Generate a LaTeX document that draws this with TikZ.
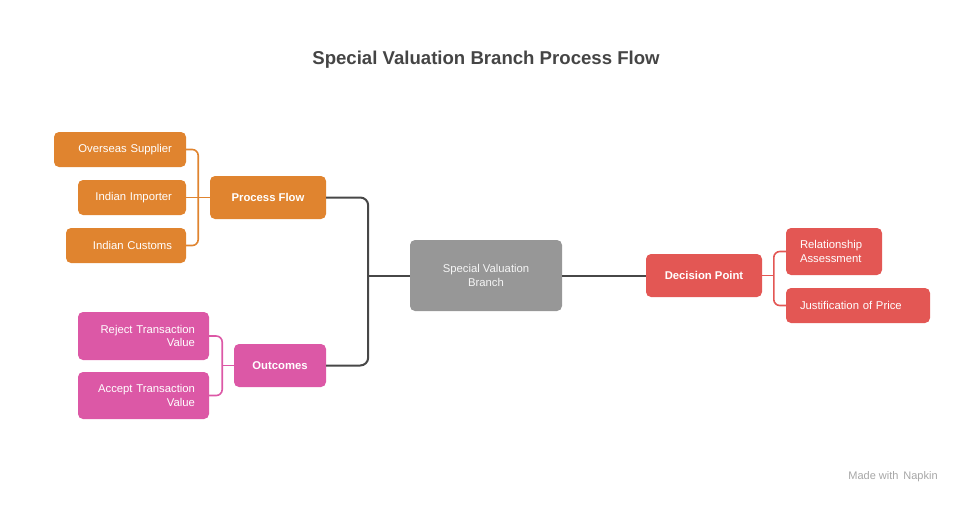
\documentclass[tikz,border=0pt]{standalone}
\usepackage{fontspec}
\setmainfont{Liberation Sans}
\definecolor{orangebox}{HTML}{E0842F}
\definecolor{pinkbox}{HTML}{DC58A6}
\definecolor{redbox}{HTML}{E35754}
\definecolor{graybox}{HTML}{979797}
\definecolor{trunkline}{HTML}{474747}
\definecolor{titlegray}{HTML}{454545}
\tikzset{
  box/.style={rectangle, rounded corners=5pt, text=white, inner xsep=14pt, inner ysep=2pt,
    font=\fontsize{11.3}{13.2}\selectfont},
  leafleft/.style={box, text width=#1, align=right},
  leafright/.style={box, text width=#1, align=left},
  hub/.style={box, font=\fontsize{11.3}{13.2}\selectfont\bfseries, align=center},
  branch/.style={line width=1.6pt, rounded corners=6pt},
}
\begin{document}
\begin{tikzpicture}[x=1pt,y=-1pt]
\useasboundingbox (0,0) rectangle (972,504);
\node[text=titlegray, font=\fontsize{18.6}{22}\selectfont\bfseries] (title) at (486,60) {Special Valuation Branch Process Flow};

% process flow side
\node[leafleft=104pt, fill=orangebox, minimum height=35pt] (os) at (120,149.5) {Overseas Supplier};
\node[leafleft=80pt, fill=orangebox, minimum height=35pt] (ii) at (132,197.5) {Indian Importer};
\node[leafleft=92pt, fill=orangebox, minimum height=35pt] (ic) at (126,245.5) {Indian Customs};
\node[hub, fill=orangebox, minimum width=116pt, minimum height=43pt] (pf) at (268,197.5) {Process Flow};

% outcomes side
\node[leafleft=103pt, fill=pinkbox, minimum height=48pt] (rtv) at (143.5,336) {Reject Transaction\\Value};
\node[leafleft=103pt, fill=pinkbox, minimum height=47pt] (atv) at (143.5,395.5) {Accept Transaction\\Value};
\node[hub, fill=pinkbox, minimum width=92pt, minimum height=43pt] (oc) at (280,365.5) {Outcomes};

% center
\node[box, fill=graybox, text=white!92!gray, align=center, minimum width=152pt, minimum height=71pt] (svb) at (486,275.5) {Special Valuation\\Branch};

% decision side
\node[hub, fill=redbox, minimum width=116pt, minimum height=43pt] (dp) at (704,275.5) {Decision Point};
\node[leafright=68pt, fill=redbox, minimum height=47pt] (ra) at (834,251.5) {Relationship\\Assessment};
\node[leafright=116pt, fill=redbox, minimum height=35pt] (jp) at (858,305.5) {Justification of Price};

\coordinate (trunk) at (368,275.5);

\draw[branch, orangebox] (os.east) -- ++(12,0) |- (ic.east);
\draw[branch, orangebox] (ii.east) -- (pf.west);
\draw[branch, pinkbox] (rtv.east) -- ++(13,0) |- (atv.east);
\draw[branch, pinkbox] (oc.west) -- ++(-12,0);
\draw[branch, redbox] (ra.west) -- ++(-12,0) |- (jp.west);
\draw[branch, redbox] (dp.east) -- ++(12,0);
\draw[line width=2pt, trunkline, rounded corners=8pt] (pf.east) -- ++(42,0) |- (oc.east);
\draw[line width=2pt, trunkline] (trunk) -- (svb.west);
\draw[line width=2pt, trunkline] (svb.east) -- (dp.west);

\node[text=gray!70, font=\fontsize{11}{13}\selectfont] (mark) at (893,477) {Made with \,Napkin};
\end{tikzpicture}
\end{document}
